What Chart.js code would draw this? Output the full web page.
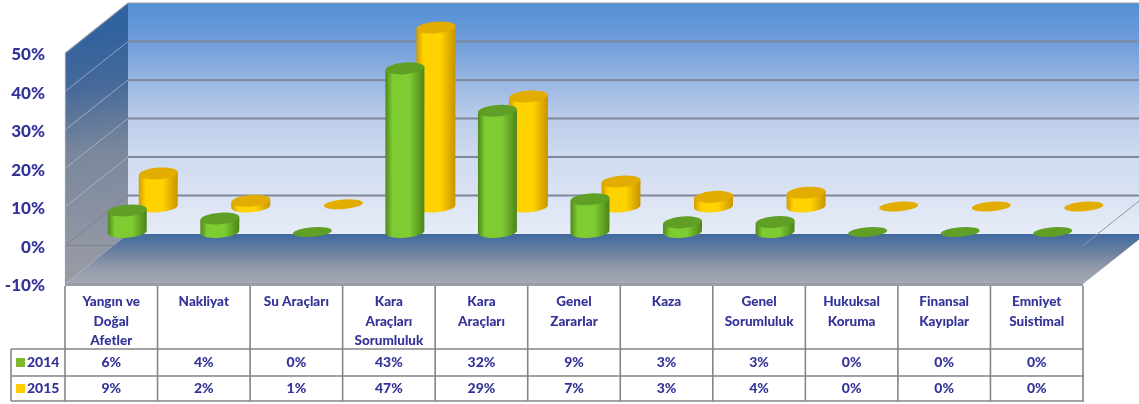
<!DOCTYPE html>
<html>
<head>
<meta charset="utf-8">
<style>html,body{margin:0;padding:0;background:#fff}canvas{display:block}</style>
<script src="https://cdn.jsdelivr.net/npm/chart.js@4"></script>
</head>
<body>
<canvas id="c" width="1139" height="404"></canvas>
<script>
const categories = [
  ["Yangın ve","Doğal","Afetler"],["Nakliyat"],["Su Araçları"],["Kara","Araçları","Sorumluluk"],
  ["Kara","Araçları"],["Genel","Zararlar"],["Kaza"],["Genel","Sorumluluk"],
  ["Hukuksal","Koruma"],["Finansal","Kayıplar"],["Emniyet","Suistimal"]
];
const values2014 = [5.6,3.5,0,42.5,31.5,8.5,2.5,2.6,0,0,0];
const values2015 = [8.6,1.5,0.6,46.5,28.6,6.5,2.5,3.6,0,0,0];
const yTicks = [-10,0,10,20,30,40,50];

const INK = '#333399', FONT = 'Lato, Carlito, sans-serif', LINE = '#858585';
const DEPTH = {x:63, y:-50}, FRONT_DY = -2;
const SERIES = [
  {dx:16, dy:-13.5, edge1:'#4f871c', mid:'#7ecb32', edge2:'#4c8418', cap:'#5f9f26'},
  {dx:47, dy:-39, edge1:'#d09c00', mid:'#ffd200', edge2:'#c89400', cap:'#e2ad00'}
];
const RX = 19.5, RY = 5.8, TILT = -0.08;

function poly(ctx, pts, fill){
  ctx.beginPath(); pts.forEach((p,i)=> i?ctx.lineTo(p[0],p[1]):ctx.moveTo(p[0],p[1]));
  ctx.closePath(); ctx.fillStyle = fill; ctx.fill();
}
function vgrad(ctx, y0, y1, stops){
  const g = ctx.createLinearGradient(0,y0,0,y1);
  stops.forEach(s=>g.addColorStop(s[0],s[1])); return g;
}
const scene = {
  id:'scene',
  beforeDatasetsDraw(chart){
    const ctx = chart.ctx, ys = chart.scales.y, a = chart.chartArea;
    const L=a.left, R=a.right, T=ys.getPixelForValue(50)+FRONT_DY, B=ys.getPixelForValue(-10)+FRONT_DY;
    ctx.save();
    poly(ctx,[[L+DEPTH.x,T+DEPTH.y],[R+DEPTH.x,T+DEPTH.y],[R+DEPTH.x,B+DEPTH.y],[L+DEPTH.x,B+DEPTH.y]],
      vgrad(ctx,T+DEPTH.y,B+DEPTH.y,[[0,'#5590d6'],[.17,'#6e9dd9'],[.33,'#97b5e2'],[.5,'#bccdea'],[.67,'#cfdbef'],[.84,'#dbe3f3'],[1,'#e6ecf7']]));
    const sg = ctx.createLinearGradient(L,T-20,L+30,B);
    sg.addColorStop(0,'#2f629e'); sg.addColorStop(.22,'#46699a'); sg.addColorStop(.48,'#7a879c'); sg.addColorStop(1,'#9b9da7');
    poly(ctx,[[L,T],[L+DEPTH.x,T+DEPTH.y],[L+DEPTH.x,B+DEPTH.y],[L,B]],sg);
    poly(ctx,[[L,B],[R,B],[R+DEPTH.x,B+DEPTH.y],[L+DEPTH.x,B+DEPTH.y]],
      vgrad(ctx,B+DEPTH.y,B,[[0,'#3f6a9f'],[.35,'#6a7f9f'],[.7,'#959cac'],[1,'#a6a9b4']]));
    yTicks.forEach(v=>{
      const y = ys.getPixelForValue(v)+FRONT_DY;
      if(v>-10 && v<50){
        ctx.strokeStyle='#7d8899'; ctx.lineWidth=1.8;
        ctx.beginPath(); ctx.moveTo(L+DEPTH.x,y+DEPTH.y); ctx.lineTo(R+DEPTH.x,y+DEPTH.y); ctx.stroke();
        ctx.strokeStyle = v===0 ? 'rgba(120,122,135,.75)' : 'rgba(190,197,210,.65)'; ctx.lineWidth=1;
        ctx.beginPath(); ctx.moveTo(L,y); ctx.lineTo(L+DEPTH.x,y+DEPTH.y); ctx.stroke();
      }
      if(v===0){
        ctx.strokeStyle='rgba(120,122,135,.7)'; ctx.lineWidth=1;
        ctx.beginPath(); ctx.moveTo(L,y); ctx.lineTo(L+52,y); ctx.stroke();
        ctx.strokeStyle='#8f96a6';
        ctx.beginPath(); ctx.moveTo(R,y); ctx.lineTo(R+DEPTH.x,y+DEPTH.y); ctx.stroke();
      }
    });
    ctx.strokeStyle='rgba(150,155,168,.9)'; ctx.lineWidth=1.2;
    ctx.beginPath(); ctx.moveTo(L+.5,B); ctx.lineTo(L+.5,T); ctx.lineTo(L+DEPTH.x,T+DEPTH.y); ctx.lineTo(R+DEPTH.x,T+DEPTH.y); ctx.stroke();
    ctx.strokeStyle='#9a9da8'; ctx.lineWidth=3;
    ctx.beginPath(); ctx.moveTo(L,B+.5); ctx.lineTo(R,B+.5); ctx.stroke();
    ctx.restore();
  },
  beforeDatasetDraw(chart,args){
    const ctx = chart.ctx, s = SERIES[args.index], meta = args.meta;
    const d = Math.sin(-TILT)*RX;
    ctx.save();
    meta.data.forEach(el=>{
      const p = el.getProps(['x','y','base'],true);
      const x = p.x+s.dx, top = p.y+s.dy+FRONT_DY, base = p.base+s.dy+FRONT_DY;
      const tall = base-top>3;
      if(tall){
        const g = ctx.createLinearGradient(x-RX,0,x+RX,0);
        g.addColorStop(0,s.edge1); g.addColorStop(.18,s.mid); g.addColorStop(.62,s.mid); g.addColorStop(1,s.edge2);
        ctx.beginPath();
        ctx.moveTo(x-RX,top+d);
        ctx.lineTo(x-RX,base+d);
        ctx.ellipse(x,base,RX,RY,TILT,Math.PI,0,true);
        ctx.lineTo(x+RX,top-d);
        ctx.closePath();
        ctx.fillStyle=g; ctx.fill();
      }
      ctx.beginPath(); ctx.ellipse(x,top,RX,tall?RY:RY-1,TILT,0,Math.PI*2);
      ctx.fillStyle=s.cap; ctx.fill();
    });
    ctx.restore();
    return false;
  },
  afterDraw(chart){
    const ctx = chart.ctx, xs = chart.scales.x, a = chart.chartArea;
    const L=a.left, R=a.right, cw=(R-L)/categories.length;
    const rows=[349,376,401], top=286, keyL=11;
    ctx.save();
    ctx.strokeStyle=LINE; ctx.lineWidth=1.6;
    ctx.beginPath();
    for(let i=0;i<=categories.length;i++){ const x=L+cw*i; ctx.moveTo(x,top); ctx.lineTo(x,rows[2]); }
    rows.forEach(y=>{ctx.moveTo(keyL,y);ctx.lineTo(R+1,y);});
    ctx.moveTo(keyL,rows[0]); ctx.lineTo(keyL,rows[2]);
    ctx.stroke();
    const names=['2014','2015'], series=[values2014,values2015], cols=['#7fba2e','#ffcc00'];
    ctx.textBaseline='middle'; ctx.fillStyle=INK;
    names.forEach((n,r)=>{
      const yc=(rows[r]+rows[r+1])/2;
      ctx.fillStyle=cols[r]; ctx.fillRect(16,yc-4.5,9,9);
      ctx.fillStyle=INK; ctx.font='900 14px '+FONT; ctx.textAlign='left';
      ctx.fillText(n,27,yc);
      ctx.textAlign='center';
      series[r].forEach((v,i)=>ctx.fillText(Math.round(v)+'%',xs.getPixelForTick(i),yc));
    });
    ctx.restore();
  }
};
new Chart(document.getElementById('c'),{
  type:'bar',
  plugins:[scene],
  data:{labels:categories,datasets:[
    {label:'2014',data:values2014,backgroundColor:'#7fba2e'},
    {label:'2015',data:values2015,backgroundColor:'#ffcc00'}
  ]},
  options:{
    responsive:false,animation:false,
    layout:{padding:{top:55,right:56,left:0,bottom:0}},
    plugins:{legend:{display:false},tooltip:{enabled:false}},
    datasets:{bar:{grouped:false,barThickness:38}},
    scales:{
      x:{
        grid:{display:false,drawTicks:false},border:{display:false},
        afterFit(s){s.height=118;},
        ticks:{autoSkip:false,maxRotation:0,minRotation:0,padding:6,color:INK,font:{family:FONT,weight:'900',size:13.5,lineHeight:1.45}}
      },
      y:{
        min:-10,max:50,
        grid:{display:false,drawTicks:false},border:{display:false},
        afterFit(s){s.width=65;},
        afterBuildTicks(s){s.ticks=yTicks.map(v=>({value:v}));},
        ticks:{padding:20,color:INK,font:{family:FONT,weight:'900',size:17},callback:v=>v+'%'}
      }
    }
  }
});
</script>
</body>
</html>
